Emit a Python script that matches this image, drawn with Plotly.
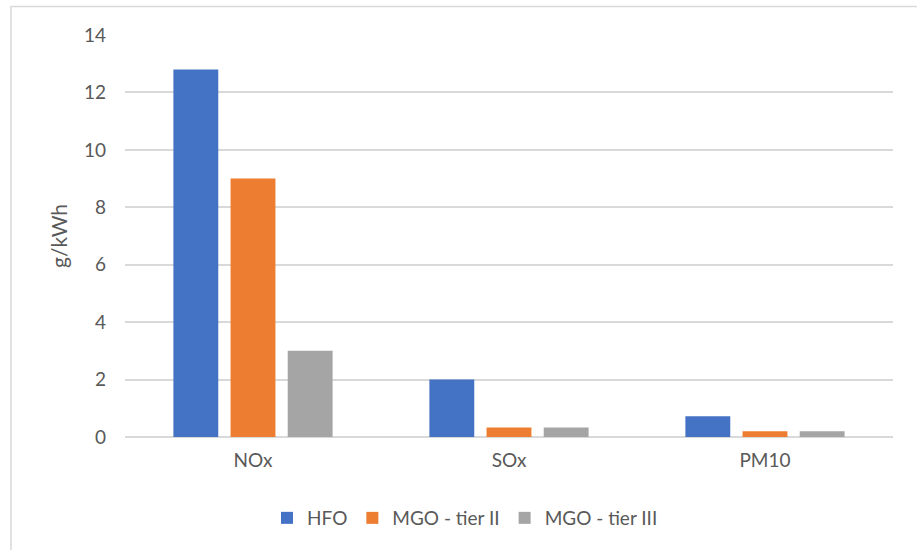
import plotly.graph_objects as go

# Emission factors per pollutant, g/kWh
pollutants = ["NOx", "SOx", "PM10"]
hfo = [12.8, 2.0, 0.72]
mgo_tier2 = [9.0, 0.33, 0.2]
mgo_tier3 = [3.0, 0.33, 0.2]

series = [
    ("HFO", hfo, "#4472C4"),
    ("MGO - tier II", mgo_tier2, "#ED7D31"),
    ("MGO - tier III", mgo_tier3, "#A5A5A5"),
]

W, H = 917, 550
L, R, T, B = 125, 24, 35, 113
pw, ph = W - L - R, H - T - B

def px_x(x):
    return (x - L) / pw

def px_y(y):
    return (H - B - y) / ph

fig = go.Figure()
for name, vals, color in series:
    fig.add_trace(go.Bar(
        x=pollutants, y=vals, name=name,
        marker=dict(color=color, line=dict(width=0)),
    ))

text_color = "#595959"
font_family = "Lato, 'Liberation Sans', sans-serif"

fig.update_layout(
    width=W, height=H,
    margin=dict(l=L, r=R, t=T, b=B),
    paper_bgcolor="white", plot_bgcolor="white",
    barmode="group", bargap=0.33, bargroupgap=0.215,
    font=dict(family=font_family, size=19, color=text_color),
    showlegend=True,
    legend=dict(
        orientation="h", x=px_x(465), xanchor="center",
        y=px_y(518), yanchor="middle",
        font=dict(size=19, color=text_color),
        itemwidth=30, traceorder="normal",
    ),
    xaxis=dict(
        showgrid=False, showline=False, zeroline=False,
        ticks="", ticklabelstandoff=10,
        tickfont=dict(size=19, color=text_color),
    ),
    yaxis=dict(
        range=[0, 14], dtick=2, tick0=0,
        showgrid=True, gridcolor="#D9D9D9", gridwidth=1.5,
        zeroline=True, zerolinecolor="#D9D9D9", zerolinewidth=1.5,
        showline=False, ticks="", ticklabelstandoff=18,
        tickfont=dict(size=19, color=text_color),
        title=dict(text="g/kWh", standoff=10,
                   font=dict(size=21, color=text_color)),
    ),
    shapes=[dict(
        type="rect", xref="paper", yref="paper",
        x0=px_x(11), x1=px_x(940), y0=px_y(570), y1=px_y(6.5),
        line=dict(color="#D9D9D9", width=1.5), fillcolor="rgba(0,0,0,0)",
        layer="below",
    )],
)

fig.write_html("out.html")
